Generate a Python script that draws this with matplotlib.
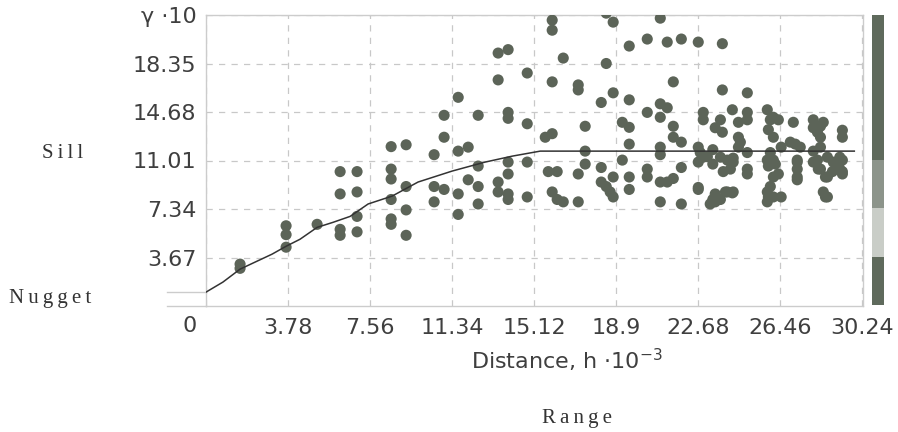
import matplotlib.pyplot as plt
from matplotlib.lines import Line2D

# Эмпирическая вариограмма: расстояние (h*10^-3) и полудисперсия (gamma*10)
dist = [1.57, 1.57, 3.69, 3.69, 3.69, 5.12, 6.18, 6.18, 6.96, 6.96,
        6.18, 6.96, 6.18, 6.96,
        8.53, 9.22, 8.53, 8.53, 9.22, 8.53, 9.22, 8.53, 8.53, 9.22,
        10.51, 10.97, 10.97, 11.62, 11.62, 12.08, 12.54, 10.51, 10.97, 10.51,
        11.62, 11.62, 12.08, 12.54, 12.54, 12.54,
        13.46, 13.46, 13.92, 13.92, 13.92, 14.80, 14.80, 13.92, 13.92, 13.46,
        13.46, 13.92, 13.92, 14.80, 14.80,
        15.63, 15.95, 15.95, 15.95, 16.46, 15.95, 17.15, 17.15, 17.47, 15.77,
        16.18, 15.95, 16.18, 16.46, 17.15, 17.15, 17.47, 17.47,
        18.44, 18.76, 18.44, 18.76, 18.21, 19.50, 19.50, 19.18, 19.50, 19.50,
        19.18, 18.21, 18.21, 18.44, 18.62, 18.76, 18.76, 19.50, 19.50,
        20.33, 20.93, 21.25, 21.90, 22.68, 23.79, 21.53, 20.33, 20.93, 21.25,
        20.93, 21.53, 21.53, 21.90, 20.93, 20.93, 22.68, 20.33, 20.33, 20.93,
        21.25, 21.53, 20.93, 21.90, 21.90, 22.68, 22.68,
        23.79, 24.94, 24.25, 22.91, 22.91, 23.70, 23.46, 23.79, 24.94, 24.53,
        24.94, 24.53, 22.77, 23.10, 23.35, 23.70, 24.02, 24.53, 24.62, 24.94,
        24.29, 24.16, 23.83, 24.94, 24.94, 22.91, 23.35, 24.29, 22.68, 23.46,
        23.93, 24.25, 23.46, 23.70, 23.35, 23.23, 24.02, 24.29,
        25.86, 26.00, 25.91, 26.14, 26.50, 26.00, 26.14, 25.91, 26.14, 26.00,
        25.91, 26.50, 26.14, 26.37, 25.86, 26.23, 26.37, 25.86, 26.14, 25.86,
        27.06, 26.92, 27.38, 27.15, 27.24, 27.24, 27.24, 27.24, 27.24,
        27.98, 28.31, 28.17, 28.31, 27.98, 28.44, 29.32, 29.32, 28.31, 28.63,
        28.17, 28.31, 28.90, 29.20, 29.20, 28.63, 27.98, 28.21, 28.54, 28.86,
        29.20, 29.32, 28.44, 28.54, 28.63, 29.32, 29.32, 27.98]
gamma = [3.17, 2.85, 6.07, 5.40, 4.45, 6.18, 5.80, 5.35, 5.61, 6.78,
         10.17, 10.17, 8.48, 8.63,
         12.06, 12.20, 10.36, 9.61, 9.04, 8.06, 7.27, 6.59, 6.18, 5.35,
         11.45, 12.77, 14.43, 15.79, 11.72, 12.02, 14.43, 9.04, 8.82, 7.88,
         8.48, 6.93, 9.55, 9.04, 10.59, 7.72,
         17.11, 19.14, 19.40, 14.65, 14.20, 17.63, 13.79, 10.89, 9.99, 9.38,
         8.63, 8.48, 8.06, 10.89, 8.25,
         12.77, 13.04, 21.63, 20.87, 18.76, 16.96, 16.73, 16.35, 13.60, 10.17,
         10.17, 8.63, 8.06, 7.88, 7.88, 9.99, 10.74, 11.72,
         22.16, 21.48, 18.35, 16.13, 15.40, 15.60, 19.67, 13.90, 13.52, 12.25,
         11.04, 10.48, 9.38, 9.04, 8.63, 8.25, 9.76, 9.76, 8.82,
         20.20, 21.78, 19.97, 20.20, 19.97, 19.85, 16.96, 14.65, 15.30, 15.00,
         14.28, 13.60, 12.77, 12.40, 12.02, 11.45, 12.02, 10.36, 9.76, 9.38,
         9.38, 9.65, 7.88, 10.48, 7.72, 8.82, 10.89,
         16.35, 16.13, 14.85, 14.65, 14.09, 14.09, 13.49, 13.15, 14.65, 13.90,
         14.09, 12.77, 11.61, 11.30, 11.83, 11.26, 11.04, 12.02, 12.40, 11.61,
         10.89, 10.36, 10.17, 10.36, 9.99, 11.26, 10.74, 11.19, 8.97, 8.48,
         8.63, 8.56, 7.88, 8.06, 8.06, 7.72, 8.63, 8.63,
         14.85, 14.09, 13.34, 12.77, 12.02, 11.61, 11.04, 10.59, 9.76, 9.04,
         8.25, 8.25, 14.28, 14.09, 11.04, 10.74, 9.99, 8.63, 8.25, 7.88,
         13.90, 12.40, 12.02, 12.25, 11.04, 10.36, 9.76, 10.89, 9.55,
         14.09, 13.60, 13.15, 12.77, 13.49, 13.90, 13.30, 12.77, 12.02, 11.26,
         11.04, 10.36, 10.89, 11.26, 10.36, 9.76, 10.89, 10.36, 9.76, 10.17,
         10.89, 9.99, 8.63, 8.25, 8.25, 11.04, 10.17, 11.72]

# Модель вариограммы
model_h = [0, 0.78, 1.57, 2.35, 3.04, 3.69, 4.33, 5.12, 5.85, 6.64, 7.47,
           8.58, 9.77, 11.34, 12.86, 14.11, 15.40, 29.87]
model_g = [1.05, 1.81, 2.79, 3.39, 3.92, 4.52, 5.05, 5.95, 6.33, 6.78, 7.72,
           8.32, 9.38, 10.21, 10.89, 11.34, 11.72, 11.72]

x_ticks = [0, 3.78, 7.56, 11.34, 15.12, 18.9, 22.68, 26.46, 30.24]
x_labels = ['', '3.78', '7.56', '11.34', '15.12', '18.9', '22.68', '26.46', '30.24']
y_ticks = [3.67, 7.34, 11.01, 14.68, 18.35, 22.02]
y_labels = ['3.67', '7.34', '11.01', '14.68', '18.35', 'γ ·10']

# Шкала справа
scale_bounds = [0, 3.67, 7.34, 11.01, 22.02]
scale_colors = ['#5f6a5c', '#c9cdc7', '#8c948a', '#5f6a5c']

dot_color = '#5c6458'
grid_color = '#c8c8c8'
text_color = '#3f3f3f'
serif = ['Liberation Serif', 'DejaVu Serif']

fig = plt.figure(figsize=(8.98, 4.32), dpi=100)
ax = fig.add_axes([206/898, 1 - 306/432, 657/898, 291/432])

ax.scatter(dist, gamma, s=64, color=dot_color, edgecolors='none', zorder=3)
ax.plot(model_h, model_g, color='#333333', lw=1.1, zorder=4)

ax.set_xlim(0, 30.27)
ax.set_ylim(0, 22.02)
ax.set_xticks(x_ticks)
ax.set_xticklabels(x_labels)
ax.set_yticks(y_ticks)
ax.set_yticklabels(y_labels)
ax.tick_params(axis='both', length=0, labelsize=16, labelcolor=text_color)
ax.tick_params(axis='x', pad=9)
ax.tick_params(axis='y', pad=7)
ax.grid(True, color=grid_color, linestyle=(0, (5, 5)), linewidth=0.9)
for s in ax.spines.values():
    s.set_color('#cccccc')
    s.set_linewidth(1)

# подпись "0" сдвинута влево
ax.text(-0.74, -0.033, '0', transform=ax.get_xaxis_transform(), ha='center', va='top',
        fontsize=16, color=text_color)

# линии наггета слева от оси
ax.add_line(Line2D([-0.059, 0], [1.05 / 22.02, 1.05 / 22.02], transform=ax.transAxes,
                   color='#cccccc', lw=1, clip_on=False))
ax.add_line(Line2D([-0.059, 0], [0, 0], transform=ax.transAxes,
                   color='#cccccc', lw=1, clip_on=False))

# шкала
cax = fig.add_axes([872/898, 1 - 305/432, 12/898, 290/432])
for i in range(len(scale_colors)):
    cax.bar(0, scale_bounds[i + 1] - scale_bounds[i], bottom=scale_bounds[i],
            width=1, color=scale_colors[i])
cax.set_xlim(-0.5, 0.5)
cax.set_ylim(0, 22.02)
cax.axis('off')

fig.text(567/898, 1 - 360/432, 'Distance, h ·10$^{-3}$', ha='center', va='center',
         fontsize=16, color=text_color)
# подписи с разрядкой
fig.text(63/898, 1 - 153/432, 'S\u2009i\u2009l\u2009l', ha='center', va='center',
         fontsize=15, family=serif, color='#333333')
fig.text(50/898, 1 - 298/432, 'N\u2009u\u2009g\u2009g\u2009e\u2009t', ha='center',
         va='center', fontsize=15, family=serif, color='#333333')
fig.text(577/898, 1 - 418/432, 'R\u2009a\u2009n\u2009g\u2009e', ha='center', va='center',
         fontsize=15, family=serif, color='#333333')

plt.savefig('out.png', dpi=100)
